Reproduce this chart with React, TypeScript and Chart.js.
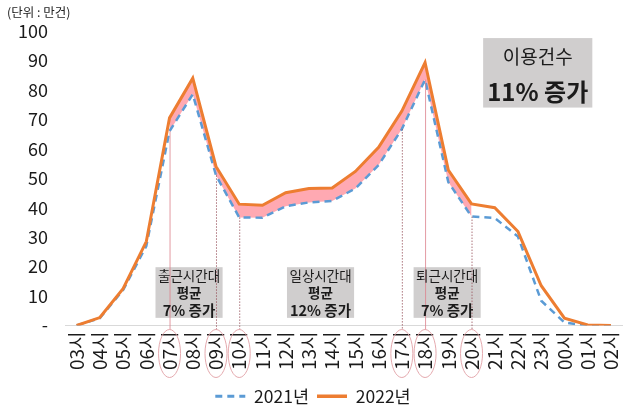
import React, { useEffect, useRef } from 'react';
import { Chart, registerables } from 'chart.js';

Chart.register(...registerables);

const FONT = "'Noto Sans CJK KR', 'Noto Sans', sans-serif";

const hours = ['03시', '04시', '05시', '06시', '07시', '08시', '09시', '10시', '11시', '12시', '13시', '14시',
  '15시', '16시', '17시', '18시', '19시', '20시', '21시', '22시', '23시', '00시', '01시', '02시'];
const y2021 = [0, 2.5, 12, 27, 66, 78.5, 51, 36.7, 36.6, 40.5, 41.8, 42.3, 46.5, 54.5, 66.7, 83.5, 48.7, 37, 36.5, 30.2, 8.4, 1, 0, 0];
const y2022 = [0, 2.7, 12.5, 28.5, 70.5, 84, 54, 41.2, 40.8, 45.1, 46.5, 46.7, 52.3, 60.5, 72.8, 89.3, 52.8, 41.3, 40, 31.9, 13.5, 2.5, 0.2, 0];
const seriesNames = ['2021년', '2022년'];
const fillFrom = '07시';
const fillTo = '20시';
const markedHours = ['07시', '09시', '10시', '17시', '18시', '20시'];
const solidMarkedHours = ['07시', '18시'];
const unitLabel = '(단위 : 만건)';
const totalLines = ['이용건수', '11% 증가'];
const box1Lines = ['출근시간대', '평균', '7% 증가'];
const box2Lines = ['일상시간대', '평균', '12% 증가'];
const box3Lines = ['퇴근시간대', '평균', '7% 증가'];

const fillStart = hours.indexOf(fillFrom);
const fillEnd = hours.indexOf(fillTo);
const fillSeries = y2022.map((v, i) => (i >= fillStart && i <= fillEnd ? v : null));

const annotPlugin = {
  id: 'annot',
  afterDatasetsDraw(chart: any) {
    const ctx = chart.ctx as CanvasRenderingContext2D;
    const xs = chart.scales.x;
    const ys = chart.scales.y;
    const area = chart.chartArea;
    ctx.save();

    const drawBox = (center: number, lines: string[]) => {
      const cx = xs.getPixelForValue(center);
      const top = ys.getPixelForValue(19.8);
      const bottom = ys.getPixelForValue(2.6);
      ctx.font = `13.5px ${FONT}`;
      let w = ctx.measureText(lines[0]).width;
      ctx.font = `bold 14.5px ${FONT}`;
      w = Math.max(w, ctx.measureText(lines[2]).width);
      w += 5;
      ctx.fillStyle = '#D0CECE';
      ctx.fillRect(cx - w / 2, top, w, bottom - top);
      return { cx, top, bottom };
    };
    const b1 = drawBox(4.84, box1Lines);
    const b2 = drawBox(10.5, box2Lines);
    const b3 = drawBox(15.95, box3Lines);

    markedHours.forEach((h) => {
      const i = hours.indexOf(h);
      const x = xs.getPixelForValue(i);
      const yTop = ys.getPixelForValue(y2021[i]);
      const yBot = area.bottom + 4;
      ctx.beginPath();
      if (solidMarkedHours.includes(h)) {
        ctx.setLineDash([]);
        ctx.strokeStyle = 'rgba(220,130,140,0.8)';
      } else {
        ctx.setLineDash([1.5, 1.5]);
        ctx.strokeStyle = 'rgba(150,80,90,0.8)';
      }
      ctx.lineWidth = 1;
      ctx.moveTo(x + 0.5, yTop);
      ctx.lineTo(x + 0.5, yBot);
      ctx.stroke();
      ctx.setLineDash([]);
      ctx.beginPath();
      ctx.strokeStyle = 'rgba(225,160,165,0.9)';
      ctx.lineWidth = 1;
      ctx.ellipse(x, area.bottom + 28, 11, 24, 0, 0, Math.PI * 2);
      ctx.stroke();
    });

    const drawText = (b: any, lines: string[]) => {
      ctx.fillStyle = '#1b1b1b';
      ctx.textAlign = 'center';
      ctx.textBaseline = 'middle';
      ctx.font = `13.5px ${FONT}`;
      ctx.fillText(lines[0], b.cx, b.top + 9);
      ctx.font = `bold 13.5px ${FONT}`;
      ctx.fillText(lines[1], b.cx, b.top + 26);
      ctx.font = `bold 14.5px ${FONT}`;
      ctx.fillText(lines[2], b.cx, b.top + 43);
    };
    drawText(b1, box1Lines);
    drawText(b2, box2Lines);
    drawText(b3, box3Lines);

    const tx1 = xs.getPixelForValue(17.5);
    const tx2 = xs.getPixelForValue(22.2);
    const ty1 = ys.getPixelForValue(97.6);
    const ty2 = ys.getPixelForValue(74);
    ctx.fillStyle = '#D0CECE';
    ctx.fillRect(tx1, ty1, tx2 - tx1, ty2 - ty1);
    ctx.fillStyle = '#1b1b1b';
    ctx.textAlign = 'center';
    ctx.textBaseline = 'middle';
    ctx.font = `19px ${FONT}`;
    ctx.fillText(totalLines[0], (tx1 + tx2) / 2, ty1 + 19);
    ctx.font = `bold 24px ${FONT}`;
    ctx.fillText(totalLines[1], (tx1 + tx2) / 2, ty1 + 54);

    ctx.font = `12.5px ${FONT}`;
    ctx.textAlign = 'left';
    ctx.fillStyle = '#222';
    ctx.fillText(unitLabel, 7, 12);
    ctx.restore();
  },
};

export default function App() {
  const ref = useRef<HTMLCanvasElement>(null);
  useEffect(() => {
    if (!ref.current) return;
    Chart.defaults.font.family = FONT;
    const chart = new Chart(ref.current, {
      type: 'line',
      data: {
        labels: hours,
        datasets: [
          {
            label: seriesNames[0],
            data: y2021,
            borderColor: '#5B9BD5',
            backgroundColor: '#5B9BD5',
            borderWidth: 2.5,
            borderDash: [7, 5],
            pointRadius: 0,
            fill: false,
            tension: 0,
            order: 2,
          },
          {
            label: seriesNames[1],
            data: y2022,
            borderColor: '#ED7D31',
            backgroundColor: '#ED7D31',
            borderWidth: 3,
            pointRadius: 0,
            fill: false,
            tension: 0,
            order: 1,
          },
          {
            label: 'gap',
            data: fillSeries,
            borderWidth: 0,
            borderColor: 'rgba(0,0,0,0)',
            backgroundColor: '#FFA9B2',
            pointRadius: 0,
            fill: { target: 0 },
            spanGaps: false,
            tension: 0,
            order: 3,
          },
        ],
      },
      options: {
        animation: false,
        responsive: false,
        layout: { padding: { top: 31, right: 14, left: 0, bottom: 4 } },
        plugins: {
          tooltip: { enabled: false },
          legend: {
            position: 'bottom',
            labels: {
              usePointStyle: true,
              pointStyle: 'line',
              pointStyleWidth: 30,
              color: '#1b1b1b',
              font: { size: 17.5, family: FONT },
              padding: 8,
              generateLabels: (c: any) => {
                const base = Chart.defaults.plugins.legend.labels.generateLabels(c);
                return base
                  .filter((l: any) => l.datasetIndex < 2)
                  .sort((a: any, b: any) => a.datasetIndex - b.datasetIndex)
                  .map((l: any) => {
                    const ds = c.data.datasets[l.datasetIndex];
                    return {
                      ...l,
                      strokeStyle: ds.borderColor,
                      lineDash: ds.borderDash || [],
                      lineWidth: l.datasetIndex === 0 ? 3 : 3.5,
                    };
                  });
              },
            },
          },
        },
        scales: {
          x: {
            offset: true,
            grid: { display: false, drawTicks: false },
            border: { display: true, color: '#D9D9D9', width: 1 },
            ticks: {
              autoSkip: false,
              minRotation: 90,
              maxRotation: 90,
              padding: 6,
              color: '#1b1b1b',
              font: { size: 19, family: FONT },
            },
            afterFit: (s: any) => { s.height = 54; },
          },
          y: {
            min: 0,
            max: 100,
            grid: { display: false, drawTicks: false },
            border: { display: false },
            ticks: {
              stepSize: 10,
              padding: 17,
              color: '#1b1b1b',
              font: { size: 18, family: FONT },
              callback: (v: any) => (v === 0 ? '-' : String(v)),
            },
            afterFit: (s: any) => { s.width = 65; },
          },
        },
      },
      plugins: [annotPlugin],
    });
    return () => chart.destroy();
  }, []);
  return (
    <div style={{ position: 'absolute', left: 0, top: 0, width: 640, height: 419, background: '#fff' }}>
      <canvas ref={ref} width={640} height={419} />
    </div>
  );
}
